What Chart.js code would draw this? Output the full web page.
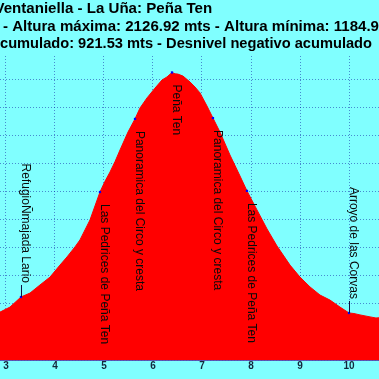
<!DOCTYPE html>
<html>
<head>
<meta charset="utf-8">
<script src="https://cdn.jsdelivr.net/npm/chart.js@4/dist/chart.umd.min.js"></script>
<style>
html,body{margin:0;padding:0;background:#80ffff;}
canvas{display:block;}
</style>
</head>
<body>
<canvas id="c" width="379" height="379"></canvas>
<script>
// ---- data ----
const distKm = [2.80, 2.878, 3.082, 3.306, 3.49, 3.694, 3.898, 4.102, 4.245, 4.408, 4.51, 4.714, 4.918, 5.02, 5.122, 5.224, 5.327, 5.49, 5.633, 5.735, 5.878, 6.041, 6.184, 6.286, 6.388, 6.45, 6.51, 6.612, 6.755, 6.857, 6.959, 7.102, 7.224, 7.367, 7.571, 7.776, 7.918, 8.122, 8.327, 8.531, 8.796, 9.0, 9.204, 9.408, 9.612, 9.816, 10.0, 10.1, 10.224, 10.429, 10.55, 10.7];
const elevM = [1262, 1271, 1289, 1325, 1339, 1368, 1396, 1439, 1468, 1504, 1529, 1600, 1700, 1738, 1771, 1808, 1850, 1914, 1961, 2000, 2036, 2071, 2100, 2111, 2126.92, 2122, 2121, 2114, 2093, 2075, 2054, 2007, 1964, 1914, 1832, 1757, 1704, 1636, 1568, 1507, 1439, 1396, 1361, 1332, 1314, 1289, 1268, 1266, 1261, 1254, 1250, 1252];
const wpNames = ["RefugioÑmajada Lario", "Las Pedrices de Peña Ten", "Panoramica del Circo y cresta", "Peña Ten", "Panoramica del Circo y cresta", "Las Pedrices de Peña Ten", "Arroyo de las Corvas"];
const wpKm = [3.306, 4.918, 5.633, 6.388, 7.224, 7.918, 10.0];
const wpElev = [1325, 1700, 1961, 2126.92, 1964, 1704, 1268];
const titleLines = [
  "Ventaniella - La Uña: Peña Ten",
  "- Altura máxima: 2126.92 mts - Altura mínima: 1184.90 mts",
  "Desnivel positivo acumulado: 921.53 mts - Desnivel negativo acumulado"
];
const xTicks = [3, 4, 5, 6, 7, 8, 9, 10];

// ---- plugins ----
const bgPlugin = {
  id: 'bg',
  beforeDraw(chart) {
    const ctx = chart.ctx;
    ctx.save();
    ctx.fillStyle = '#80ffff';
    ctx.fillRect(0, 0, chart.width, chart.height);
    ctx.restore();
  }
};
// draws a line so that the part from `startIdx` to `endIdx` of the string spans x0..x1
function fitLine(ctx, text, startIdx, endIdx, x0, x1, y) {
  const pre = ctx.measureText(text.slice(0, startIdx)).width;
  const seg = ctx.measureText(text.slice(startIdx, endIdx)).width;
  const k = (x1 - x0) / seg;
  ctx.save();
  ctx.translate(x0, y);
  ctx.scale(k, 1);
  ctx.fillText(text, -pre, 0);
  ctx.restore();
}
const titlePlugin = {
  id: 'titles',
  afterDraw(chart) {
    const ctx = chart.ctx;
    ctx.save();
    ctx.font = 'bold 15px "Liberation Sans", Arial, sans-serif';
    ctx.fillStyle = '#000000';
    ctx.textBaseline = 'alphabetic';
    ctx.textAlign = 'left';
    const t0 = titleLines[0], t1 = titleLines[1], t2 = titleLines[2];
    fitLine(ctx, t0, 1, t0.length, 4.5, 213, 13);
    fitLine(ctx, t1, 0, t1.indexOf('1184.9') + 6, 3, 379, 30.5);
    const s2 = t2.indexOf('cumulado');
    fitLine(ctx, t2, s2, t2.length, 0, 372, 48);
    ctx.restore();
  }
};
const labelPlugin = {
  id: 'wpLabels',
  afterDatasetsDraw(chart) {
    const ctx = chart.ctx;
    const xs = chart.scales.x, ys = chart.scales.y;
    const area = chart.chartArea;
    ctx.save();
    ctx.font = '12px "Liberation Sans", Arial, sans-serif';
    ctx.fillStyle = '#0a0a0a';
    ctx.strokeStyle = '#101040';
    ctx.lineWidth = 1;
    wpNames.forEach((name, i) => {
      const px = xs.getPixelForValue(wpKm[i]);
      const py = ys.getPixelForValue(wpElev[i]);
      const w = ctx.measureText(name).width;
      ctx.save();
      if (py + 12 + w < area.bottom) {
        ctx.translate(px + 1, py + 12);
        ctx.rotate(Math.PI / 2);
        ctx.textAlign = 'left';
        ctx.fillText(name, 0, 0);
      } else {
        ctx.beginPath();
        ctx.moveTo(Math.round(px) + 0.5, py);
        ctx.lineTo(Math.round(px) + 0.5, py - 12);
        ctx.stroke();
        ctx.translate(px + 1, py - 14);
        ctx.rotate(Math.PI / 2);
        ctx.textAlign = 'right';
        ctx.fillText(name, 0, 0);
      }
      ctx.restore();
    });
    ctx.restore();
  }
};

const gridColor = 'rgba(0,0,150,0.45)';
new Chart(document.getElementById('c'), {
  type: 'line',
  data: {
    datasets: [
      {
        data: distKm.map((d, i) => ({x: d, y: elevM[i]})),
        borderColor: '#ff0000',
        backgroundColor: '#ff0000',
        borderWidth: 1,
        pointRadius: 0,
        fill: 'start',
        tension: 0,
        order: 2
      },
      {
        data: wpKm.map((d, i) => ({x: d, y: wpElev[i]})),
        showLine: false,
        pointStyle: 'rect',
        pointRadius: 1.6,
        pointBackgroundColor: '#0000ff',
        pointBorderColor: '#0000ff',
        pointBorderWidth: 0,
        order: 1
      }
    ]
  },
  options: {
    responsive: false,
    animation: false,
    layout: {autoPadding: false, padding: {top: 56, left: 0, right: 0, bottom: 0}},
    plugins: {legend: {display: false}, title: {display: false}, tooltip: {enabled: false}},
    scales: {
      x: {
        type: 'linear',
        min: 2.878,
        max: 10.612,
        z: 1,
        afterBuildTicks: (s) => { s.ticks = xTicks.map(v => ({value: v})); },
        afterFit: (s) => { s.height = 19; s.paddingLeft = 0; s.paddingRight = 0; },
        ticks: {
          stepSize: 1,
          includeBounds: false,
          maxRotation: 0,
          autoSkip: false,
          padding: 0,
          color: '#14283c',
          font: {family: '"Liberation Sans", Arial, sans-serif', size: 10, weight: 'bold'}
        },
        grid: {color: gridColor, drawTicks: false, lineWidth: 1},
        border: {display: true, color: 'rgba(90,70,170,0.9)', width: 1, dash: [1, 2]}
      },
      y: {
        type: 'linear',
        min: 1100,
        max: 2185.7,
        z: 1,
        afterFit: (s) => { s.width = 0; },
        ticks: {display: false, stepSize: 100, includeBounds: false},
        grid: {color: gridColor, drawTicks: false, lineWidth: 1},
        border: {display: false, dash: [1, 2]}
      }
    }
  },
  plugins: [bgPlugin, labelPlugin, titlePlugin]
});
</script>
</body>
</html>
